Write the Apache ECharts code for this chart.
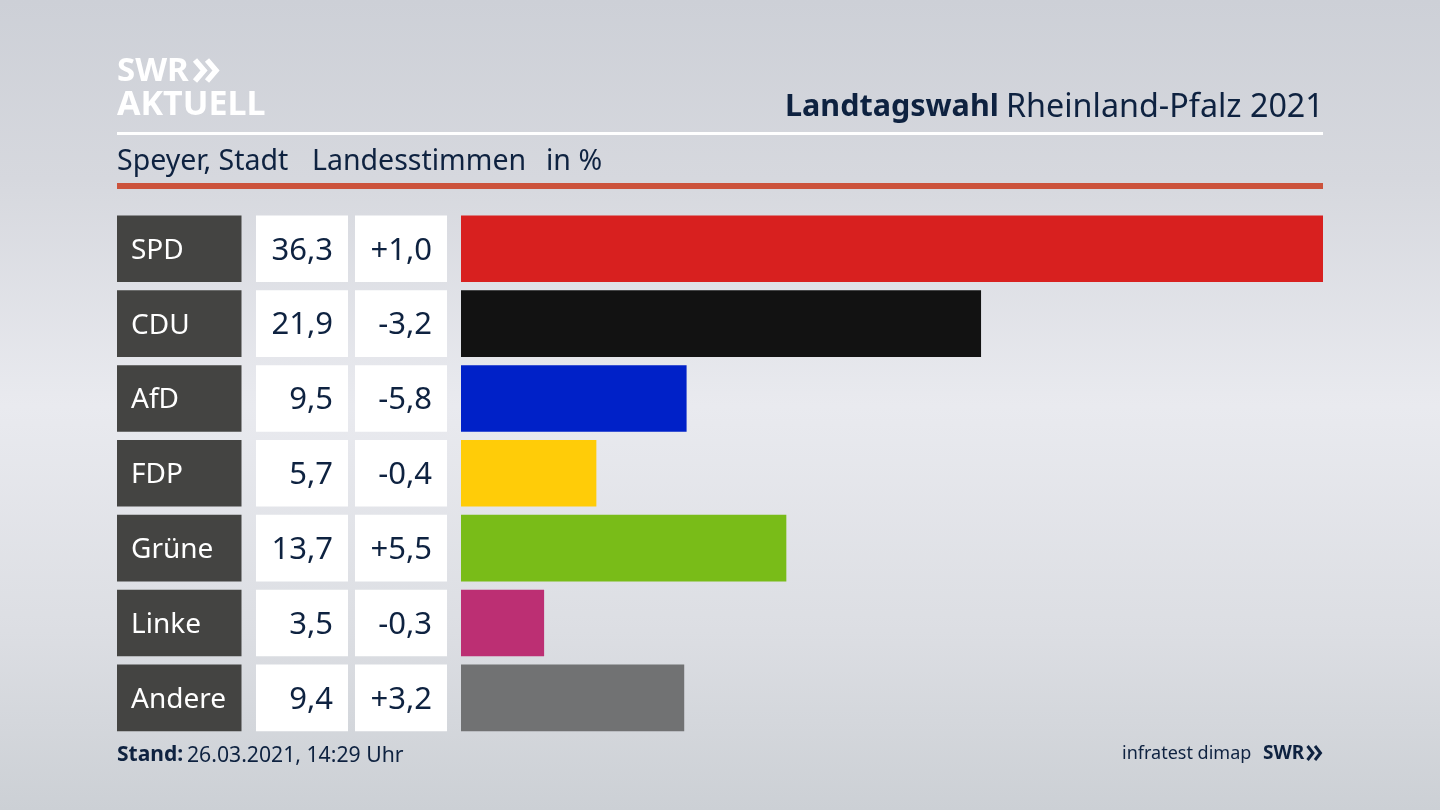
<!DOCTYPE html>
<html>
<head>
<meta charset="utf-8">
<style>
html, body { margin: 0; padding: 0; background: #dcdee3; }
#chart { width: 1440px; height: 810px; }
</style>
<script src="https://cdn.jsdelivr.net/npm/echarts@6/dist/echarts.min.js"></script>
</head>
<body>
<div id="chart"></div>
<script>
var parties = ['SPD', 'CDU', 'AfD', 'FDP', 'Grüne', 'Linke', 'Andere'];
var shares = [36.3, 21.9, 9.5, 5.7, 13.7, 3.5, 9.4];
var changes = ['+1,0', '-3,2', '-5,8', '-0,4', '+5,5', '-0,3', '+3,2'];
var partyColors = ['#d8201f', '#121212', '#0021c8', '#ffcc08', '#79bc18', '#bc2f73', '#717273'];
// table cells fill their column completely
var cellFill = [1, 1, 1, 1, 1, 1, 1];

var navy = '#0e2240';
var font = '"Noto Sans", sans-serif';
var gridTop = 211.3;
var gridHeight = 524;
var rowBar = 66.6;

function shareText(v) {
    return v.toFixed(1).replace('.', ',');
}

// one narrow grid per table column, the last grid holds the bars
function makeGrid(left, width) {
    return {left: left, top: gridTop, width: width, height: gridHeight};
}
var grids = [makeGrid(117, 124.5), makeGrid(256, 92), makeGrid(355, 92), makeGrid(461, 862)];

var xAxes = grids.map(function (g, i) {
    return {
        type: 'value', gridIndex: i, min: 0, max: i === 3 ? 36.3 : 1,
        show: false
    };
});
var yAxes = grids.map(function (g, i) {
    return {
        type: 'category', gridIndex: i, data: parties, inverse: true,
        show: false
    };
});

function cellSeries(idx, color, labels, labelPos, labelDist, textColor, size) {
    return {
        type: 'bar', xAxisIndex: idx, yAxisIndex: idx, data: cellFill,
        barWidth: rowBar, silent: true, animation: false,
        itemStyle: {color: color},
        label: {
            show: true, position: labelPos, distance: labelDist, offset: [0, 2],
            color: textColor, fontFamily: font, fontSize: size,
            formatter: function (p) { return labels[p.dataIndex]; }
        }
    };
}

var option = {
    animation: false,
    backgroundColor: new echarts.graphic.LinearGradient(0, 0, 0, 1, [
        {offset: 0, color: '#cdd0d7'},
        {offset: 0.22, color: '#d6d8de'},
        {offset: 0.5, color: '#e9eaef'},
        {offset: 0.78, color: '#dcdee3'},
        {offset: 1, color: '#ccd0d5'}
    ]),
    grid: grids,
    xAxis: xAxes,
    yAxis: yAxes,
    series: [
        cellSeries(0, '#444442', parties, 'insideLeft', 14, '#ffffff', 28),
        cellSeries(1, '#ffffff', shares.map(shareText), 'insideRight', 15, navy, 31),
        cellSeries(2, '#ffffff', changes, 'insideRight', 15, navy, 31),
        {
            type: 'bar', xAxisIndex: 3, yAxisIndex: 3, barWidth: rowBar, silent: true,
            data: shares.map(function (v, i) {
                return {value: v, itemStyle: {color: partyColors[i]}};
            })
        }
    ],
    graphic: [
        {type: 'rect', shape: {x: 117, y: 132, width: 1206, height: 3}, style: {fill: '#ffffff'}},
        {type: 'rect', shape: {x: 117, y: 183, width: 1206, height: 6}, style: {fill: '#cc533c'}},
        // logo top left
        {type: 'text', x: 117, y: 55, style: {text: 'SWR', fill: '#ffffff', font: 'bold 33px ' + font}},
        {type: 'polyline', shape: {points: [[195, 60], [204, 70.5], [195, 81]]}, style: {stroke: '#ffffff', lineWidth: 5.5, fill: null}},
        {type: 'polyline', shape: {points: [[207, 60], [216, 70.5], [207, 81]]}, style: {stroke: '#ffffff', lineWidth: 5.5, fill: null}},
        {type: 'text', x: 117, y: 88, style: {text: 'AKTUELL', fill: '#ffffff', font: 'bold 34px ' + font}},
        // heading
        {type: 'text', x: 785, y: 92, style: {text: 'Landtagswahl', fill: navy, font: 'bold 30.5px ' + font}},
        {type: 'text', x: 1006, y: 92, style: {text: 'Rheinland-Pfalz 2021', fill: navy, font: '32.3px ' + font}},
        {type: 'text', x: 117, y: 147, style: {text: 'Speyer, Stadt', fill: navy, font: '28.5px ' + font}},
        {type: 'text', x: 312, y: 147, style: {text: 'Landesstimmen', fill: navy, font: '28.5px ' + font}},
        {type: 'text', x: 546, y: 147, style: {text: 'in %', fill: navy, font: '28.5px ' + font}},
        // footer
        {type: 'text', x: 117, y: 745, style: {text: 'Stand:', fill: navy, font: 'bold 21px ' + font}},
        {type: 'text', x: 187, y: 745, style: {text: '26.03.2021, 14:29 Uhr', fill: navy, font: '21.2px ' + font}},
        {type: 'text', x: 1122, y: 745, style: {text: 'infratest dimap', fill: navy, font: '18px ' + font}},
        {type: 'text', x: 1263, y: 744, style: {text: 'SWR', fill: navy, font: 'bold 19px ' + font}},
        {type: 'polyline', shape: {points: [[1307.5, 746], [1313, 753], [1307.5, 760]]}, style: {stroke: navy, lineWidth: 3, fill: null}},
        {type: 'polyline', shape: {points: [[1315, 746], [1320.5, 753], [1315, 760]]}, style: {stroke: navy, lineWidth: 3, fill: null}}
    ]
};

var chart = echarts.init(document.getElementById('chart'));
chart.setOption(option);
</script>
</body>
</html>
